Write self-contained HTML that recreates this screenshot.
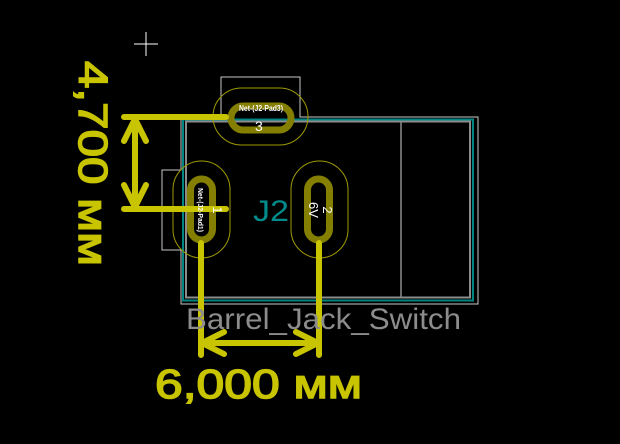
<!DOCTYPE html>
<html><head><meta charset="utf-8"><style>html,body{margin:0;padding:0;background:#000;width:620px;height:444px;overflow:hidden}</style></head>
<body>
<svg width="620" height="444" viewBox="0 0 620 444" xmlns="http://www.w3.org/2000/svg">
<rect width="620" height="444" fill="#000"/>
<path d="M134 44H158M146 32V56" stroke="#fff" stroke-width="1"/>
<path d="M221 117V77H300V117H478V304H181V250H162V170H181V117Z" fill="none" stroke="#c8c8c8" stroke-width="1"/>
<rect x="183" y="119.5" width="290" height="181" fill="none" stroke="#008484" stroke-width="2"/>
<rect x="186" y="121.5" width="284" height="176" fill="none" stroke="#8c8c8c" stroke-width="2"/>
<line x1="401" y1="122" x2="401" y2="297" stroke="#8c8c8c" stroke-width="1.5"/>
<rect x="213" y="88" width="95" height="57" rx="28.5" fill="none" stroke="#a09a00" stroke-width="1"/>
<rect x="173" y="161" width="57" height="97" rx="28.5" fill="none" stroke="#a09a00" stroke-width="1"/>
<rect x="291" y="161" width="57" height="97" rx="28.5" fill="none" stroke="#a09a00" stroke-width="1"/>
<rect x="231" y="106" width="60" height="24" rx="12" fill="none" stroke="#847f00" stroke-width="7"/>
<rect x="190.5" y="179" width="22" height="61" rx="11" fill="none" stroke="#847f00" stroke-width="7"/>
<rect x="307.5" y="179" width="22" height="61" rx="11" fill="none" stroke="#847f00" stroke-width="7"/>
<g stroke="#c8c400" stroke-width="6" stroke-linecap="round" fill="none">
<path d="M201 243V355M319 243V355"/>
<path d="M202 343H318M202 343L224 332M202 343L224 354M318 343L296 332M318 343L296 354"/>
<path d="M124 117H226M124 209H226M135 119V207M135 119L124 141M135 119L146 141M135 207L124 185M135 207L146 185"/>
</g>
<text x="239" y="111" font-family="Liberation Sans,sans-serif" font-size="8" font-weight="bold" fill="#fff" textLength="44" lengthAdjust="spacingAndGlyphs">Net-(J2-Pad3)</text>
<text x="255" y="131" font-family="Liberation Sans,sans-serif" font-size="14" fill="#fff">3</text>
<text transform="translate(213,210) rotate(90)" font-family="Liberation Sans,sans-serif" font-size="13" fill="#fff" text-anchor="middle">1</text>
<text transform="translate(198,210) rotate(90)" font-family="Liberation Sans,sans-serif" font-size="7" font-weight="bold" fill="#fff" text-anchor="middle" textLength="44" lengthAdjust="spacingAndGlyphs">Net-(J2-Pad1)</text>
<text transform="translate(323,210) rotate(90)" font-family="Liberation Sans,sans-serif" font-size="13" fill="#fff" text-anchor="middle">2</text>
<text transform="translate(309,210) rotate(90)" font-family="Liberation Sans,sans-serif" font-size="13" fill="#fff" text-anchor="middle">6V</text>
<text x="253" y="221" font-family="Liberation Sans,sans-serif" font-size="30" fill="#008c8c" textLength="36" lengthAdjust="spacingAndGlyphs">J2</text>
<text x="186" y="329" font-family="Liberation Sans,sans-serif" font-size="30" fill="#8c8c8c" textLength="275" lengthAdjust="spacingAndGlyphs">Barrel_Jack_Switch</text>
<text x="155" y="398" font-family="Liberation Sans,sans-serif" font-size="41" fill="#c8c400" stroke="#c8c400" stroke-width="1.5" textLength="207" lengthAdjust="spacingAndGlyphs">6,000 мм</text>
<text transform="translate(79,61) rotate(90)" font-family="Liberation Sans,sans-serif" font-size="41" fill="#c8c400" stroke="#c8c400" stroke-width="1.5" textLength="205" lengthAdjust="spacingAndGlyphs">4,700 мм</text>
</svg>
</body></html>
